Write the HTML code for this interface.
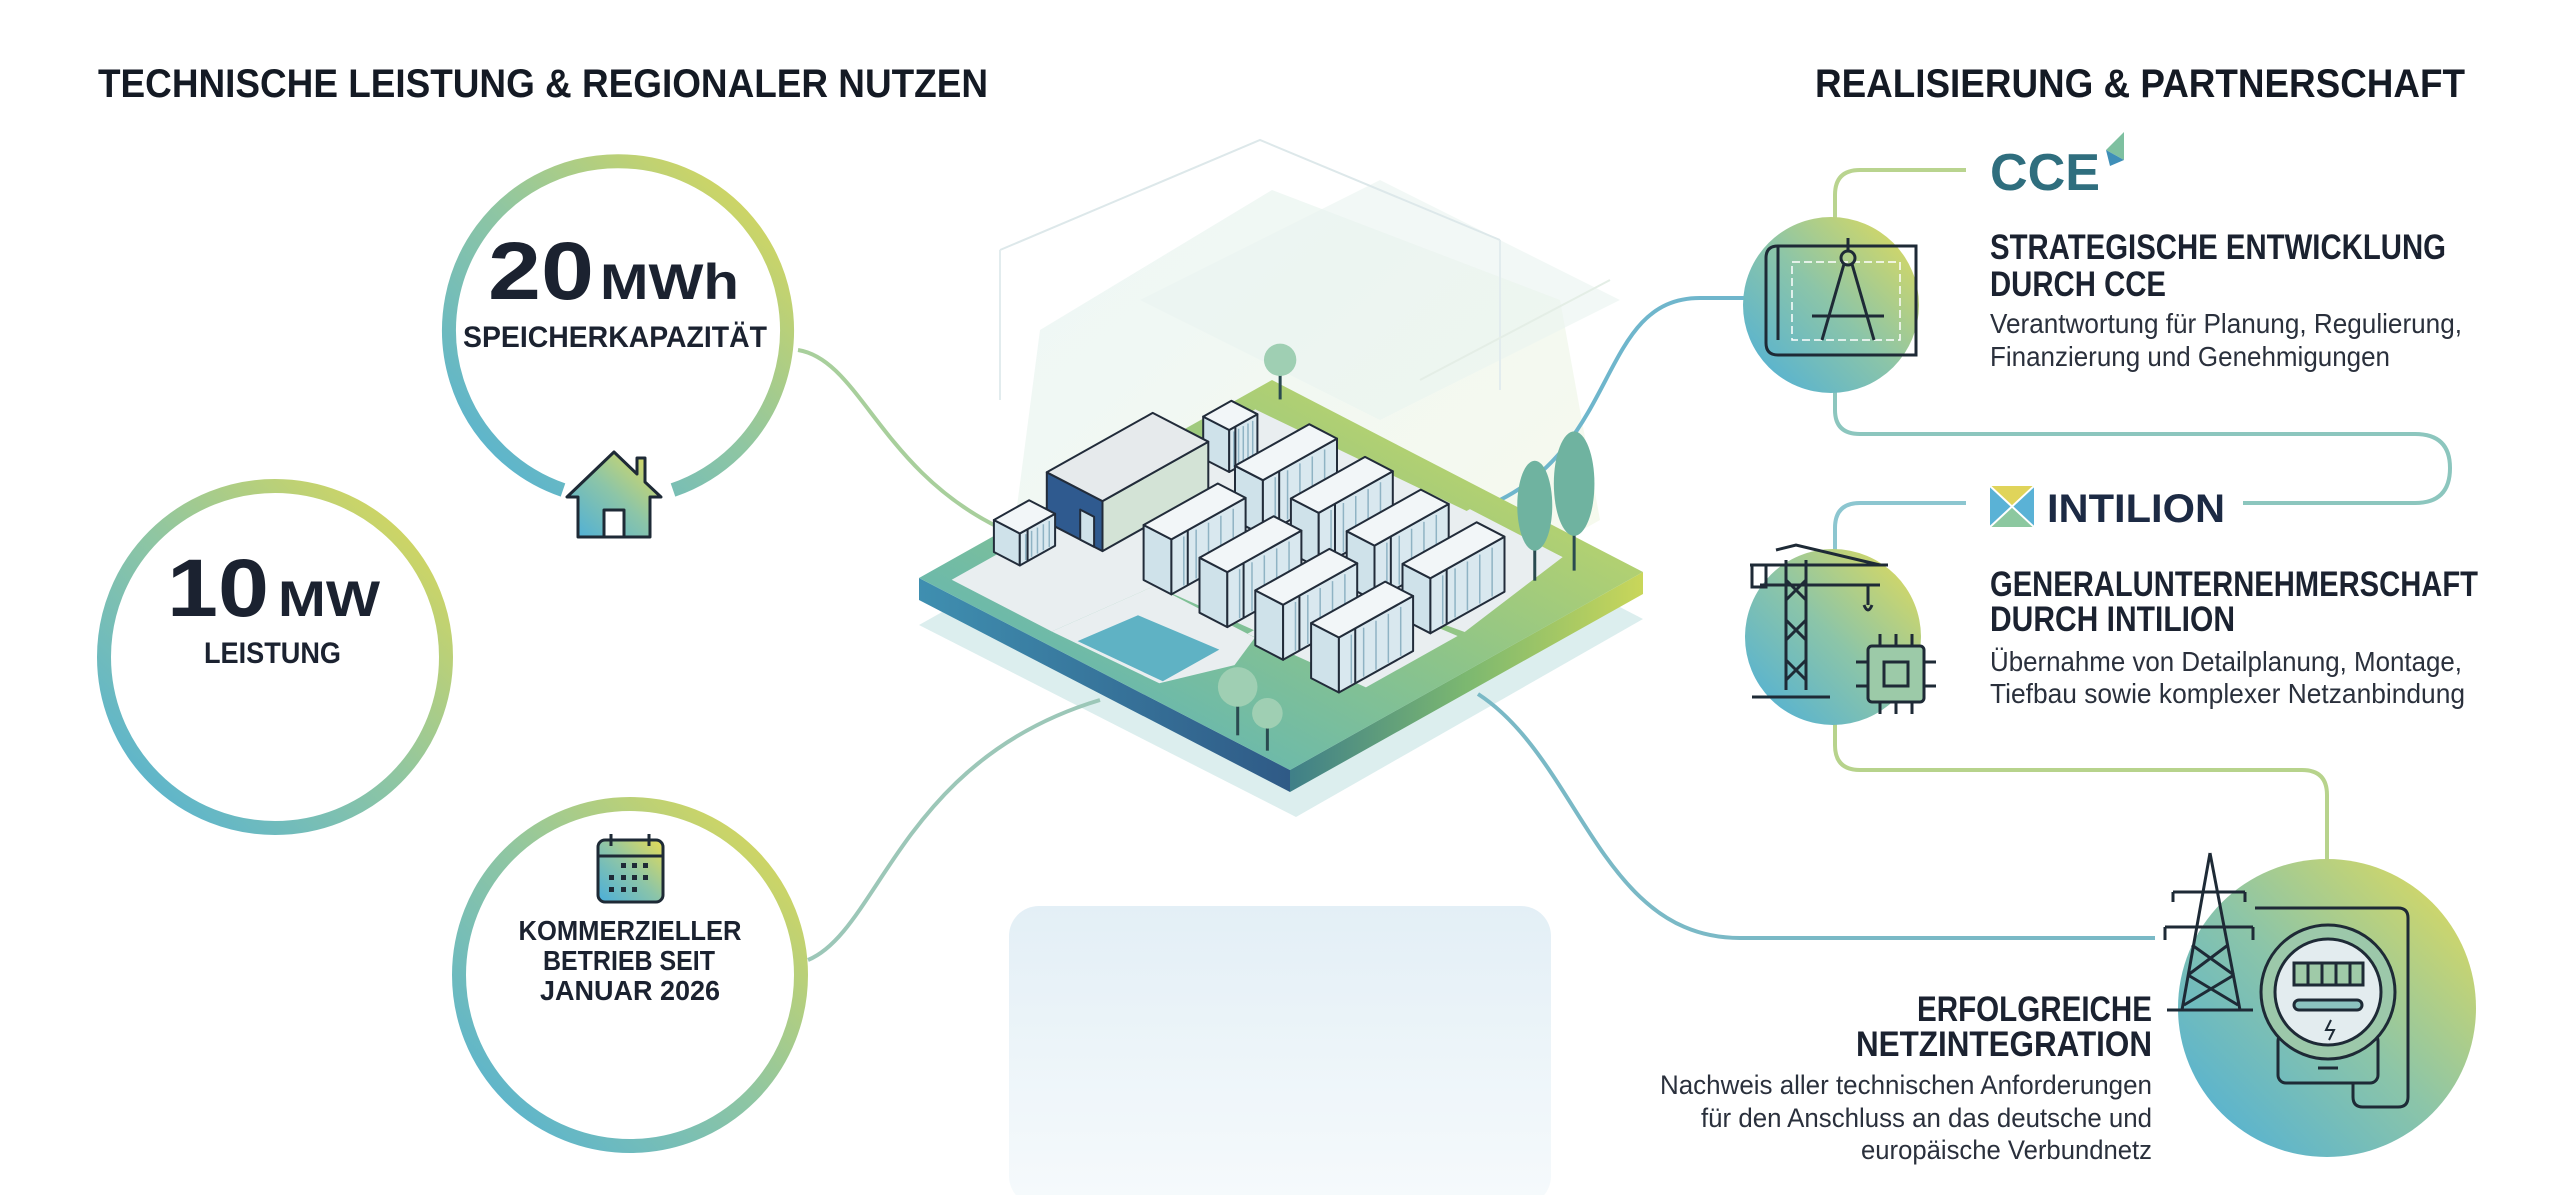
<!DOCTYPE html>
<html><head><meta charset="utf-8"><style>
html,body{margin:0;padding:0;background:#fff;}
svg{display:block;}
text{font-family:"Liberation Sans",Arial,sans-serif;}
</style></head><body>
<svg id="s" width="2560" height="1195" viewBox="0 0 2560 1195" xmlns="http://www.w3.org/2000/svg">
<defs>
<linearGradient id="ring" x1="0" y1="1" x2="1" y2="0"><stop offset="0" stop-color="#4fb0d8"/><stop offset=".5" stop-color="#8fc6a2"/><stop offset="1" stop-color="#e3da50"/></linearGradient>
<linearGradient id="fillc" x1="0" y1="1" x2="1" y2="0"><stop offset="0" stop-color="#4aaedb"/><stop offset=".5" stop-color="#8cc5a8"/><stop offset="1" stop-color="#e6dc55"/></linearGradient>
<linearGradient id="lineg" x1="0" y1="0" x2="1" y2="0"><stop offset="0" stop-color="#7cbfc0"/><stop offset="1" stop-color="#c9d67a"/></linearGradient>
<linearGradient id="top" x1="0" y1="1" x2="1" y2="0"><stop offset="0" stop-color="#4fb0c8"/><stop offset=".5" stop-color="#8cc48a"/><stop offset="1" stop-color="#d6dc5a"/></linearGradient>
<linearGradient id="sideL" x1="0" y1="0" x2="1" y2="0"><stop offset="0" stop-color="#3f8fb0"/><stop offset="1" stop-color="#2f5a86"/></linearGradient>
<linearGradient id="sideR" x1="0" y1="0" x2="1" y2="0"><stop offset="0" stop-color="#3f7f88"/><stop offset=".5" stop-color="#7cb870"/><stop offset="1" stop-color="#c9d65a"/></linearGradient>
<linearGradient id="bg1" x1="0" y1="0" x2="1" y2="1"><stop offset="0" stop-color="#dff0f0"/><stop offset="1" stop-color="#f2f6dc"/></linearGradient>
<linearGradient id="pale" x1="0" y1="0" x2="0" y2="1"><stop offset="0" stop-color="#e3eff6"/><stop offset="1" stop-color="#f6fafc"/></linearGradient>
</defs>

<rect x="1009" y="906" width="542" height="300" rx="30" fill="url(#pale)"/>
<polygon points="1040,330 1272,190 1560,300 1600,520 1296,690 1010,560" fill="url(#bg1)" opacity=".55"/>
<polygon points="1140,300 1380,180 1620,300 1380,420" fill="#eaf4f0" opacity=".6"/>
<polyline points="1000,250 1260,140 1500,240" fill="none" stroke="#dde8ea" stroke-width="2"/>
<line x1="1000" y1="250" x2="1000" y2="400" stroke="#e2ecee" stroke-width="2"/>
<line x1="1500" y1="240" x2="1500" y2="390" stroke="#e2ecee" stroke-width="2"/>
<line x1="1420" y1="380" x2="1610" y2="280" stroke="#e4eee6" stroke-width="2"/>
<polygon points="919,625 1272,427 1643,619 1296,817" fill="#bfe0e0" opacity=".55"/>

<path d="M798 350 C860 360 880 470 1000 528" fill="none" stroke="#a8cf9c" stroke-width="4"/>
<path d="M453 660 H1130" fill="none" stroke="url(#lineg)" stroke-width="4"/>
<path d="M808 960 C880 930 900 760 1100 700" fill="none" stroke="#9cc7b8" stroke-width="4"/>
<path d="M1500 500 C1620 440 1600 298 1700 298 H1746" fill="none" stroke="#6fb6cc" stroke-width="4"/>
<path d="M1478 694 C1580 760 1600 938 1740 938 H2155" fill="none" stroke="#7ab9c6" stroke-width="4"/>
<path d="M1966 170 H1860 Q1835 170 1835 195 V218" fill="none" stroke="#b9d48f" stroke-width="4"/>
<path d="M1835 392 V410 Q1835 434 1860 434 H2415 Q2450 434 2450 468 Q2450 503 2415 503 H2243" fill="none" stroke="#8cc6be" stroke-width="4"/>
<path d="M1966 503 H1860 Q1835 503 1835 528 V550" fill="none" stroke="#8cc6d0" stroke-width="4"/>
<path d="M1835 722 V745 Q1835 770 1860 770 H2302 Q2327 770 2327 795 V860" fill="none" stroke="#b7d38c" stroke-width="4"/>

<g id="plat"></g>

<path d="M673 490 A169 169 0 1 0 563 490" fill="none" stroke="url(#ring)" stroke-width="14"/>
<g stroke="#1e2a36" stroke-width="3" stroke-linejoin="round">
<polygon points="614,452 567,497 578,497 578,537 650,537 650,497 661,497 645,482 645,458 637,458 637,474" fill="url(#fillc)"/>
<rect x="604" y="510" width="20" height="27" fill="#fff"/>
</g>
<text x="488" y="299" font-size="82" font-weight="bold" fill="#1b2230" textLength="106" lengthAdjust="spacingAndGlyphs">20</text>
<text x="600" y="299" font-size="50" font-weight="bold" fill="#1b2230" textLength="139" lengthAdjust="spacingAndGlyphs">MWh</text>
<text x="463" y="347" font-size="30" font-weight="bold" fill="#1b2230" textLength="304" lengthAdjust="spacingAndGlyphs">SPEICHERKAPAZITÄT</text>

<circle cx="275" cy="657" r="171" fill="none" stroke="url(#ring)" stroke-width="14"/>
<text x="167" y="616" font-size="82" font-weight="bold" fill="#1b2230" textLength="102" lengthAdjust="spacingAndGlyphs">10</text>
<text x="278" y="616" font-size="50" font-weight="bold" fill="#1b2230" textLength="102" lengthAdjust="spacingAndGlyphs">MW</text>
<text x="204" y="663" font-size="30" font-weight="bold" fill="#1b2230" textLength="137" lengthAdjust="spacingAndGlyphs">LEISTUNG</text>

<circle cx="630" cy="975" r="171" fill="none" stroke="url(#ring)" stroke-width="14"/>
<g>
<rect x="598" y="840" width="65" height="62" rx="7" fill="url(#fillc)" stroke="#1e2a36" stroke-width="3"/>
<line x1="598" y1="856" x2="663" y2="856" stroke="#1e2a36" stroke-width="3"/>
<line x1="611" y1="834" x2="611" y2="846" stroke="#1e2a36" stroke-width="3"/>
<line x1="649" y1="834" x2="649" y2="846" stroke="#1e2a36" stroke-width="3"/>
<g fill="#1e2a36"><rect x="621" y="863" width="5" height="5"/><rect x="632" y="863" width="5" height="5"/><rect x="643" y="863" width="5" height="5"/><rect x="609" y="875" width="5" height="5"/><rect x="621" y="875" width="5" height="5"/><rect x="632" y="875" width="5" height="5"/><rect x="643" y="875" width="5" height="5"/><rect x="609" y="887" width="5" height="5"/><rect x="621" y="887" width="5" height="5"/><rect x="632" y="887" width="5" height="5"/></g>
</g>
<g font-size="28" font-weight="bold" fill="#1b2230" text-anchor="middle">
<text x="630" y="940" textLength="223" lengthAdjust="spacingAndGlyphs">KOMMERZIELLER</text>
<text x="629" y="970" textLength="172" lengthAdjust="spacingAndGlyphs">BETRIEB SEIT</text>
<text x="630" y="1000" textLength="180" lengthAdjust="spacingAndGlyphs">JANUAR 2026</text>
</g>

<text x="98" y="97" font-size="40" font-weight="bold" fill="#141a24" textLength="890" lengthAdjust="spacingAndGlyphs">TECHNISCHE LEISTUNG &amp; REGIONALER NUTZEN</text>
<text x="1815" y="97" font-size="40" font-weight="bold" fill="#141a24" textLength="650" lengthAdjust="spacingAndGlyphs">REALISIERUNG &amp; PARTNERSCHAFT</text>

<text x="1990" y="190" font-size="52" font-weight="bold" fill="#2f6e7e" textLength="110" lengthAdjust="spacingAndGlyphs">CCE</text>
<polygon points="2106,150 2124,132 2124,160" fill="#7ec0a0"/><polygon points="2106,150 2124,160 2110,166" fill="#3f8fb8"/>
<circle cx="1831" cy="305" r="88" fill="url(#fillc)"/>
<g fill="none" stroke="#1e2a36" stroke-width="3">
<path d="M1778 246 H1916 V355 H1778 Q1766 355 1766 343 V258 Q1766 246 1778 246 Z"/>
<path d="M1778 246 V340"/>
<path d="M1792 262 H1900 V340 H1792 Z" stroke="#ffffff" stroke-width="1.5" stroke-dasharray="8 4"/>
<circle cx="1848" cy="258" r="7"/><line x1="1848" y1="238" x2="1848" y2="251"/>
<line x1="1844" y1="264" x2="1822" y2="340"/><line x1="1852" y1="264" x2="1874" y2="340"/>
<line x1="1812" y1="316" x2="1884" y2="316"/>
</g>
<g fill="#1b2230">
<text x="1990" y="259" font-size="35" font-weight="bold" textLength="456" lengthAdjust="spacingAndGlyphs">STRATEGISCHE ENTWICKLUNG</text>
<text x="1990" y="296" font-size="35" font-weight="bold" textLength="176" lengthAdjust="spacingAndGlyphs">DURCH CCE</text>
</g>
<g fill="#2a303c" font-size="28">
<text x="1990" y="333" textLength="472" lengthAdjust="spacingAndGlyphs">Verantwortung für Planung, Regulierung,</text>
<text x="1990" y="366" textLength="400" lengthAdjust="spacingAndGlyphs">Finanzierung und Genehmigungen</text>
</g>

<g>
<rect x="1990" y="486" width="44" height="41" fill="#5ab2d6"/>
<polygon points="1990,486 2034,486 2012,506" fill="#e0d45a"/>
<polygon points="2034,527 1990,527 2012,506" fill="#8cc8a0"/>
<line x1="1990" y1="486" x2="2034" y2="527" stroke="#fff" stroke-width="2"/><line x1="2034" y1="486" x2="1990" y2="527" stroke="#fff" stroke-width="2"/>
</g>
<text x="2047" y="522" font-size="40" font-weight="bold" fill="#1c2a44" textLength="178" lengthAdjust="spacingAndGlyphs">INTILION</text>
<circle cx="1833" cy="637" r="88" fill="url(#fillc)"/>
<g fill="none" stroke="#1e2a36" stroke-width="3">
<path d="M1786 560 V690 M1806 560 V690 M1786 580 L1806 600 M1806 580 L1786 600 M1786 620 L1806 640 M1806 620 L1786 640 M1786 660 L1806 680 M1806 660 L1786 680"/>
<path d="M1750 565 H1888 M1760 585 H1880 M1776 550 L1796 545 L1880 565"/>
<rect x="1752" y="565" width="14" height="22"/>
<line x1="1868" y1="585" x2="1868" y2="605"/><path d="M1864 605 q4 10 8 0"/>
<line x1="1752" y1="697" x2="1830" y2="697"/>
<rect x="1868" y="646" width="56" height="56" rx="4" fill="#9ccaa8"/>
<rect x="1884" y="662" width="24" height="24"/>
<path d="M1880 646 V634 M1896 646 V634 M1912 646 V634 M1880 702 V714 M1896 702 V714 M1912 702 V714 M1868 662 H1856 M1868 686 H1856 M1924 662 H1936 M1924 686 H1936"/>
</g>
<g fill="#1b2230">
<text x="1990" y="596" font-size="35" font-weight="bold" textLength="488" lengthAdjust="spacingAndGlyphs">GENERALUNTERNEHMERSCHAFT</text>
<text x="1990" y="631" font-size="35" font-weight="bold" textLength="245" lengthAdjust="spacingAndGlyphs">DURCH INTILION</text>
</g>
<g fill="#2a303c" font-size="28">
<text x="1990" y="671" textLength="472" lengthAdjust="spacingAndGlyphs">Übernahme von Detailplanung, Montage,</text>
<text x="1990" y="703" textLength="475" lengthAdjust="spacingAndGlyphs">Tiefbau sowie komplexer Netzanbindung</text>
</g>

<circle cx="2327" cy="1008" r="149" fill="url(#fillc)"/>
<g fill="none" stroke="#1e2a36" stroke-width="3">
<path d="M2210 853 L2182 1010 M2210 853 L2240 1010 M2173 892 H2245 M2165 927 H2253 M2173 892 V902 M2245 892 V902 M2165 927 V940 M2253 927 V940 M2192 945 L2234 975 M2228 945 L2188 975 M2188 975 L2238 1005 M2234 975 L2184 1005"/>
<line x1="2167" y1="1010" x2="2253" y2="1010"/>
<path d="M2255 908 H2398 Q2408 908 2408 918 V1097 Q2408 1107 2398 1107 H2363 Q2353 1107 2353 1097 V1083"/>
<rect x="2278" y="1033" width="100" height="50" rx="8"/>
<circle cx="2328" cy="992" r="67" fill="#9cc8aa"/>
<circle cx="2328" cy="992" r="53" fill="#e3ecef"/>
<rect x="2294" y="963" width="69" height="22" fill="#9fcaa8"/>
<path d="M2308 963 V985 M2322 963 V985 M2336 963 V985 M2350 963 V985"/>
<rect x="2294" y="1000" width="68" height="10" rx="5" fill="#8cc3c0"/>
<path d="M2331 1020 l-5 10 h8 l-5 10" stroke-width="2"/>
<line x1="2318" y1="1068" x2="2338" y2="1068"/>
</g>
<g fill="#1b2230" text-anchor="end">
<text x="2152" y="1021" font-size="35" font-weight="bold" textLength="235" lengthAdjust="spacingAndGlyphs">ERFOLGREICHE</text>
<text x="2152" y="1056" font-size="35" font-weight="bold" textLength="296" lengthAdjust="spacingAndGlyphs">NETZINTEGRATION</text>
</g>
<g fill="#2a303c" font-size="27" text-anchor="end">
<text x="2152" y="1094" textLength="492" lengthAdjust="spacingAndGlyphs">Nachweis aller technischen Anforderungen</text>
<text x="2152" y="1127" textLength="451" lengthAdjust="spacingAndGlyphs">für den Anschluss an das deutsche und</text>
<text x="2152" y="1159" textLength="291" lengthAdjust="spacingAndGlyphs">europäische Verbundnetz</text>
</g>
</svg>
<script>
(function(){
var NS="http://www.w3.org/2000/svg",g=document.getElementById("plat");
function P(u,v,h){h=h||0;return [919+353*u+371*v,578-198*u+192*v-h];}
function poly(pts,fill,stroke,sw,op){var e=document.createElementNS(NS,"polygon");e.setAttribute("points",pts.map(function(p){return p[0].toFixed(1)+","+p[1].toFixed(1)}).join(" "));e.setAttribute("fill",fill);if(stroke){e.setAttribute("stroke",stroke);e.setAttribute("stroke-width",sw||2);e.setAttribute("stroke-linejoin","round");}if(op)e.setAttribute("opacity",op);g.appendChild(e);return e;}
function line(a,b,c,w){var e=document.createElementNS(NS,"line");e.setAttribute("x1",a[0]);e.setAttribute("y1",a[1]);e.setAttribute("x2",b[0]);e.setAttribute("y2",b[1]);e.setAttribute("stroke",c);e.setAttribute("stroke-width",w||1.5);g.appendChild(e);}
function circ(p,r,f){var e=document.createElementNS(NS,"circle");e.setAttribute("cx",p[0]);e.setAttribute("cy",p[1]);e.setAttribute("r",r);e.setAttribute("fill",f);g.appendChild(e);}
var L=P(0,0),T=P(1,0),B=P(0,1),R=P(1,1),d=22;
poly([L,B,[B[0],B[1]+d],[L[0],L[1]+d]],"url(#sideL)");
poly([B,R,[R[0],R[1]+d],[B[0],B[1]+d]],"url(#sideR)");
poly([L,T,R,B],"url(#top)");
poly([P(.04,.05),P(.9,.05),P(.93,.85),P(.6,.9),P(.55,.62),P(.32,.62),P(.3,.35),P(.04,.32)],"#e9eef0");
poly([P(.55,.6),P(.93,.6),P(.93,.85),P(.55,.85)],"#e9eef0");
poly([P(.04,.32),P(.3,.35),P(.3,.62),P(.2,.66),P(.05,.6)],"#e9eef0");
poly([P(.05,.38),P(.2,.4),P(.22,.6),P(.06,.6)],"#5fb2c4");
poly([P(.3,.6),P(.55,.6),P(.58,.9),P(.32,.9)],"#e9eef0");
function box(u,v,du,dv,h,big){
 var a=P(u,v),b=P(u,v+dv),c=P(u+du,v+dv),a2=P(u,v,h),b2=P(u,v+dv,h),c2=P(u+du,v+dv,h),d2=P(u+du,v,h);
 var st="#222c3a";
 poly([a,b,b2,a2],big?"#2f5a8f":"#cfe2ea",st,2);
 poly([b,c,c2,b2],big?"#d3e3d6":"#d9e8ef",st,2);
 poly([a2,b2,c2,d2],big?"#e6eaec":"#f2f6f8",st,2);
 if(big){var p=P(u,v+dv*.6,0),q=P(u,v+dv*.85,0);poly([p,q,[q[0],q[1]-30],[p[0],p[1]-30]],"#cfe2ea",st,2);}
 if(!big){for(var i=1;i<6;i++){var t=i/6;var p1=P(u+du*t,v+dv,2),p2=P(u+du*t,v+dv,h-4);line(p1,p2,"#8fb3c4",1.5);}
  var q1=P(u+du*.22,v+dv,0),q2=P(u+du*.22,v+dv,h);line(q1,q2,st,2);}
}
var items=[];
items.push([.32,.04,.3,.15,50,1]);
items.push([.7,.1,.08,.07,42,0]);
items.push([.17,.04,.1,.07,32,0]);
var us=[.3,.58],vs=[.32,.48,.64,.8];
for(var i=0;i<2;i++)for(var j=0;j<4;j++)items.push([us[i]-j*0.01,vs[j]-(i?0.02:0),.21,.075,55,0]);
items.sort(function(a,b){return (a[1]+a[3]-a[0])-(b[1]+b[3]-b[0]);});
function tree(u,v,s,tall){var p=P(u,v);line(p,[p[0],p[1]-s*.9],"#2a4a50",3);
 if(tall){var e=document.createElementNS(NS,"ellipse");e.setAttribute("cx",p[0]);e.setAttribute("cy",p[1]-s*1.5);e.setAttribute("rx",s*.35);e.setAttribute("ry",s*.9);e.setAttribute("fill","#6fb3a0");g.appendChild(e);}
 else circ([p[0],p[1]-s*1.1],s*.45,"#9fcfb3");}
tree(.96,.06,36);
items.forEach(function(it){box(it[0],it[1],it[2],it[3],it[4],it[5]);});
tree(.83,.87,50,1);tree(.91,.9,58,1);tree(.02,.84,44);tree(.02,.92,34);
})();
</script>
</body></html>
